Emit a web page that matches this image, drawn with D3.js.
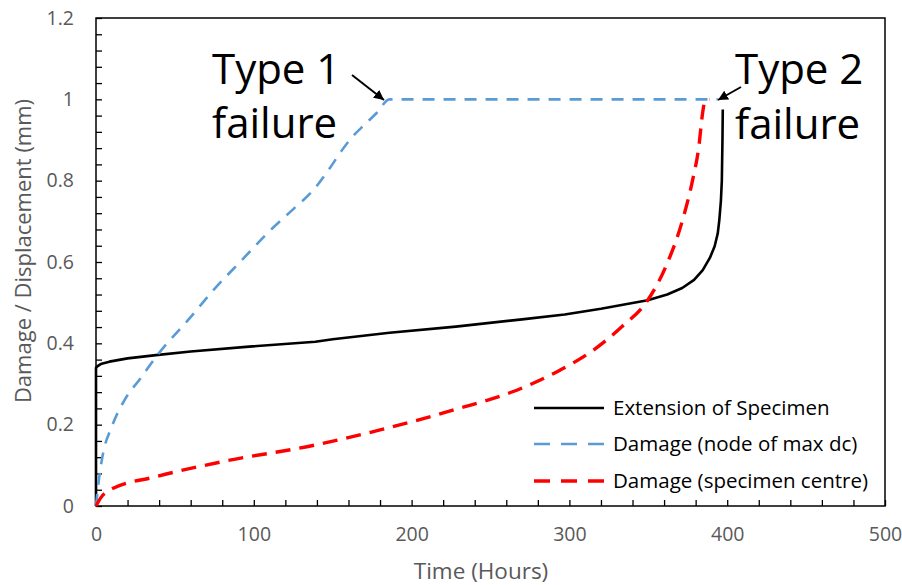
<!DOCTYPE html>
<html><head><meta charset="utf-8">
<script src="https://cdn.jsdelivr.net/npm/d3@7"></script>
<style>body{margin:0;background:#fff}svg{display:block}</style>
</head><body>
<svg id="c" width="902" height="585"></svg>
<script>
// ---- data ----
const xTickLabels = [0, 100, 200, 300, 400, 500];
const yTickLabels = [0, 0.2, 0.4, 0.6, 0.8, 1, 1.2];
const seriesNames = ["Extension of Specimen", "Damage (node of max dc)", "Damage (specimen centre)"];
// Extension of Specimen: [time, value]
const extensionData = [[0,0],[0,0.34],[1,0.344],[3,0.349],[8.5,0.355],[20,0.363],[38,0.371],[60,0.38],[97,0.392],[139,0.404],[150,0.41],[186,0.426],[228,0.441],[270,0.459],[297,0.471],[320,0.485],[349.6,0.506],[362,0.52],[371.5,0.536],[379,0.556],[384.5,0.58],[389,0.61],[392,0.638],[394,0.67],[395,0.703],[396,0.75],[396.6,0.80],[397,0.9],[397.2,0.975]];
// Damage (node of max dc)
const nodeMaxData = [[0,0],[2,0.07],[4,0.12],[10,0.195],[18,0.26],[28,0.313],[39.5,0.374],[59,0.46],[74,0.529],[92,0.603],[110,0.676],[125,0.73],[138,0.778],[148,0.83],[157,0.881],[163,0.91],[170,0.937],[178,0.967],[186,1.0],[394,1.0]];
// Damage (specimen centre)
const centreData = [[0,0],[3,0.02],[8.5,0.039],[38,0.072],[80,0.109],[139,0.15],[180,0.187],[230,0.24],[264,0.281],[294,0.334],[314,0.38],[333,0.44],[349.6,0.506],[361,0.588],[371.7,0.703],[378,0.80],[382,0.883],[384.4,0.966],[386,0.997],[389,1.0]];

// ---- layout ----
const svg = d3.select("#c");
const L = 96, R = 885, T = 18, B = 506;
const x = d3.scaleLinear().domain([0, 500]).range([L, R]);
const y = d3.scaleLinear().domain([0, 1.2]).range([B, T]);
const font = "'Open Sans', 'DejaVu Sans', sans-serif";
const gray = "#595959";

// minor ticks (inward)
const xMinor = d3.range(0, 501, 20);
const yMinor = d3.range(0, 1.2001, 0.04);
svg.append("g").attr("transform", `translate(0,${B})`)
  .call(d3.axisBottom(x).tickValues(xMinor).tickSize(-6).tickFormat(""))
  .call(g => g.select(".domain").remove())
  .call(g => g.selectAll("line").attr("stroke", "#000").attr("stroke-width", 1.3));
svg.append("g").attr("transform", `translate(${L},0)`)
  .call(d3.axisLeft(y).tickValues(yMinor).tickSize(-6).tickFormat(""))
  .call(g => g.select(".domain").remove())
  .call(g => g.selectAll("line").attr("stroke", "#000").attr("stroke-width", 1.3));

// tick labels
svg.append("g").attr("transform", `translate(0,${B})`)
  .call(d3.axisBottom(x).tickValues(xTickLabels).tickSize(0).tickPadding(21).tickFormat(d3.format("d")))
  .call(g => g.select(".domain").remove())
  .call(g => g.selectAll("text").attr("fill", gray).style("font-family", font).style("font-size", "19.5px"));
svg.append("g").attr("transform", `translate(${L},0)`)
  .call(d3.axisLeft(y).tickValues(yTickLabels).tickSize(0).tickPadding(22).tickFormat(d => d3.format("")(+d.toFixed(1))))
  .call(g => g.select(".domain").remove())
  .call(g => g.selectAll("text").attr("fill", gray).style("font-family", font).style("font-size", "19.5px"));

// frame
svg.append("rect").attr("x", L).attr("y", T).attr("width", R - L).attr("height", B - T)
  .attr("fill", "none").attr("stroke", "#000").attr("stroke-width", 1.5);

// axis titles
svg.append("text").attr("x", 481).attr("y", 579).attr("text-anchor", "middle")
  .attr("fill", gray).style("font-family", font).style("font-size", "22.5px").text("Time (Hours)");
svg.append("text").attr("transform", "translate(31,251) rotate(-90)").attr("text-anchor", "middle")
  .attr("fill", gray).style("font-family", font).style("font-size", "22px").text("Damage / Displacement (mm)");

// lines
const styles = [
  {data: extensionData, color: "#000000", w: 2.6, dash: null, curve: d3.curveLinear},
  {data: nodeMaxData, color: "#5B9BD5", w: 2.6, dash: "12,9", curve: d3.curveMonotoneX},
  {data: centreData, color: "#FF0000", w: 3.4, dash: "15,9", curve: d3.curveMonotoneX}
];
styles.forEach(s => {
  const line = d3.line().x(d => x(d[0])).y(d => y(d[1])).curve(s.curve);
  svg.append("path").datum(s.data).attr("d", line).attr("fill", "none")
    .attr("stroke", s.color).attr("stroke-width", s.w)
    .attr("stroke-dasharray", s.dash).attr("stroke-linejoin", "round");
});

// legend
const legY = [408, 444, 481];
seriesNames.forEach((n, i) => {
  const s = styles[i];
  svg.append("line").attr("x1", 534).attr("x2", 604).attr("y1", legY[i]).attr("y2", legY[i])
    .attr("stroke", s.color).attr("stroke-width", s.w).attr("stroke-dasharray", s.dash ? "16,11" : null);
  svg.append("text").attr("x", 613).attr("y", legY[i] + 7).attr("fill", "#000")
    .style("font-family", font).style("font-size", "20.5px").text(n);
});

// annotations
const ann = svg.append("g").style("font-family", font).style("font-size", "42px").attr("fill", "#000");
ann.append("text").attr("x", 212).attr("y", 84).text("Type 1");
ann.append("text").attr("x", 212).attr("y", 138).text("failure");
ann.append("text").attr("x", 735).attr("y", 84).text("Type 2");
ann.append("text").attr("x", 735).attr("y", 139).text("failure");

svg.append("defs").append("marker").attr("id", "ah").attr("viewBox", "0 0 10 10")
  .attr("refX", 10).attr("refY", 5).attr("markerWidth", 5).attr("markerHeight", 5)
  .attr("orient", "auto").attr("markerUnits", "strokeWidth")
  .append("path").attr("d", "M0,0 L10,5 L0,10 z").attr("fill", "#000");
svg.append("line").attr("x1", 352).attr("y1", 75).attr("x2", 384).attr("y2", 100)
  .attr("stroke", "#000").attr("stroke-width", 2).attr("marker-end", "url(#ah)");
svg.append("line").attr("x1", 741).attr("y1", 87).attr("x2", 718).attr("y2", 100)
  .attr("stroke", "#000").attr("stroke-width", 2).attr("marker-end", "url(#ah)");
</script>
</body></html>
